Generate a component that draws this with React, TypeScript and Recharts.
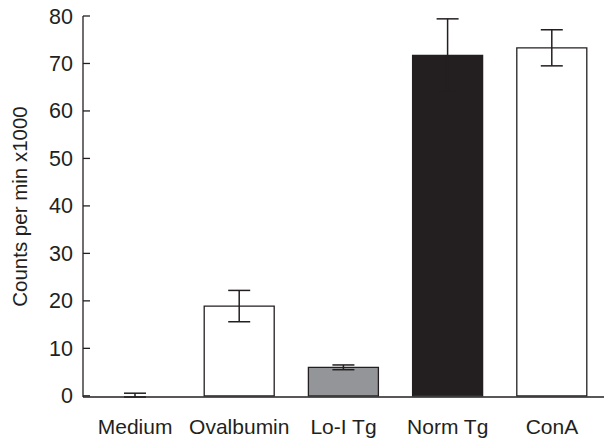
import { BarChart, Bar, XAxis, YAxis, ErrorBar, Cell, Label } from 'recharts'

const categories = ['Medium', 'Ovalbumin', 'Lo-I Tg', 'Norm Tg', 'ConA']
const counts = [0.15, 18.9, 6.0, 71.7, 73.3]
const errors = [0.4, 3.3, 0.5, 7.7, 3.8]
const fills = ['#ffffff', '#ffffff', '#939598', '#231f20', '#ffffff']
const yTicks = [0, 10, 20, 30, 40, 50, 60, 70, 80]

const ink = '#231f20'
const font = '"Liberation Sans", Arial, Helvetica, sans-serif'

const data = categories.map((name, i) => ({ name, value: counts[i], err: errors[i] }))

const YTick = ({ x, y, payload }: any) => (
  <g>
    <line x1={x + 10} x2={x + 17} y1={y} y2={y} stroke={ink} strokeWidth={1.3} />
    <text x={x} y={y} dy={7.5} textAnchor="end" fontSize={21.5} fontFamily={font} fill={ink}>
      {payload.value}
    </text>
  </g>
)

const YLabel = ({ viewBox }: any) => {
  const cx = viewBox.x + 19
  const cy = viewBox.y + viewBox.height / 2
  return (
    <text
      x={cx}
      y={cy}
      transform={`rotate(-90, ${cx}, ${cy})`}
      textAnchor="middle"
      dominantBaseline="central"
      fontSize={20.5}
      fontFamily={font}
      fill={ink}
    >
      Counts per min x1000
    </text>
  )
}

export default function App() {
  return (
    <div style={{ position: 'absolute', left: 0, top: 0, background: '#fff' }}>
      <BarChart width={610} height={441} data={data} margin={{ top: 16, right: 6, bottom: 0, left: 0 }}>
        <XAxis
          dataKey="name"
          height={44}
          tickLine={false}
          tickSize={0}
          tickMargin={22}
          interval={0}
          axisLine={{ stroke: ink, strokeWidth: 1.3 }}
          tick={{ fontSize: 21, fontFamily: font, fill: ink }}
        />
        <YAxis
          width={83}
          domain={[0, 80]}
          ticks={yTicks}
          interval={0}
          tickLine={false}
          tickSize={0}
          tickMargin={10}
          axisLine={{ stroke: ink, strokeWidth: 1.3 }}
          tick={<YTick />}
        >
          <Label content={<YLabel />} />
        </YAxis>
        <Bar dataKey="value" barSize={70} stroke={ink} strokeWidth={1.3} isAnimationActive={false}>
          {data.map((d, i) => (
            <Cell key={d.name} fill={fills[i]} stroke={i === 0 ? 'none' : ink} />
          ))}
          <ErrorBar dataKey="err" width={11} stroke={ink} strokeWidth={1.5} isAnimationActive={false} />
        </Bar>
      </BarChart>
    </div>
  )
}
